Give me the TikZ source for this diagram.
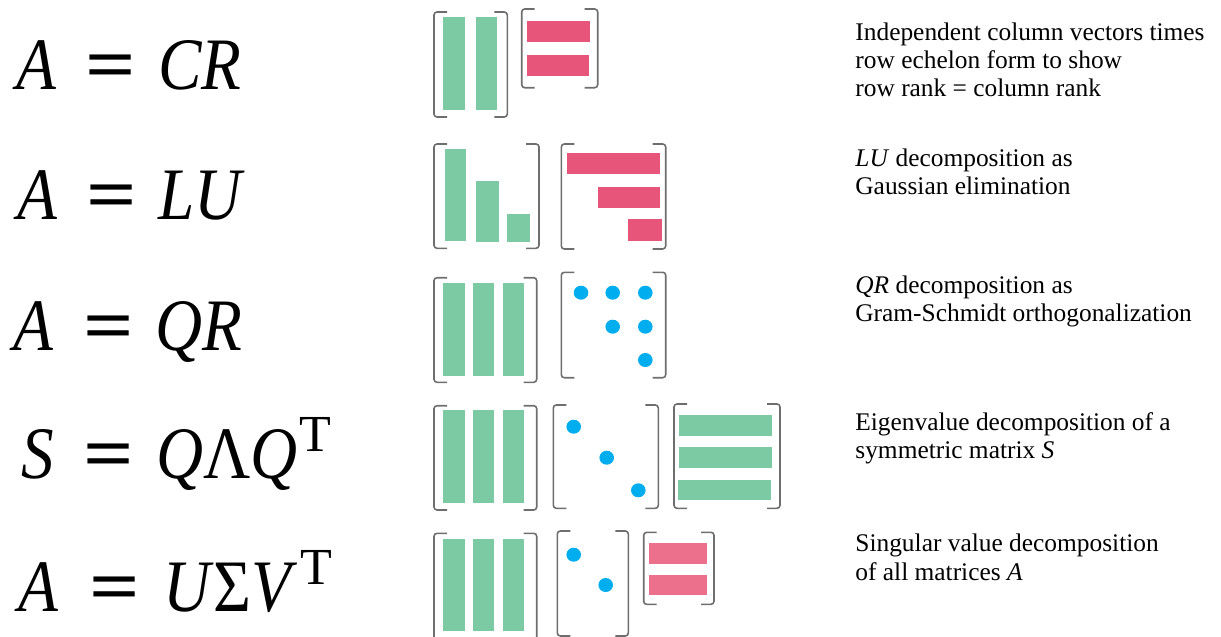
\documentclass[tikz,border=0pt]{standalone}
\usepackage{fontspec}
\usetikzlibrary{calc}
\setmainfont{Liberation Serif}
\newfontfamily\formfont[FakeStretch=0.88]{Liberation Serif}
\newfontfamily\eqfont[FakeStretch=1.2]{Liberation Serif}
\definecolor{colgreen}{HTML}{7BCAA3}
\definecolor{colpink}{HTML}{E8557B}
\definecolor{colpinkb}{HTML}{EC6F8B}
\definecolor{colblue}{HTML}{00AEEF}
\definecolor{colbrak}{HTML}{6E6E6E}
\tikzset{
  brak/.style={draw=colbrak, line width=0.8pt, rounded corners=1.5pt},
  gbar/.style={fill=colgreen},
  pbar/.style={fill=colpink},
  pbarb/.style={fill=colpinkb},
  bdot/.style={fill=colblue},
  formula/.style={anchor=base west, inner sep=0pt, font=\formfont\fontsize{37}{40}\selectfont},
  supT/.style={anchor=base west, inner sep=0pt, font=\fontsize{26}{28}\selectfont},
  eqsign/.style={anchor=base west, inner sep=0pt, font=\eqfont\fontsize{37}{40}\selectfont\bfseries},
  desc/.style={anchor=base west, inner sep=0pt, font=\fontsize{12.7}{14}\selectfont}
}
\newcommand\mybrak[4]{%
  \draw[brak] (#1+13,#2) -- (#1,#2) -- (#1,#4) -- (#1+13,#4);
  \draw[brak] (#3-13,#2) -- (#3,#2) -- (#3,#4) -- (#3-13,#4);}
\begin{document}
\begin{tikzpicture}[x=0.5pt,y=-0.5pt]
\useasboundingbox (0,0) rectangle (1221,637);
% ---------- formulas ----------
\node[formula] (f1l) at (15.7,89.3) {\textit{A}};
\node[eqsign] (f1e) at (85,89.3) {=};
\node[formula] (f1r) at (158,89.3) {\textit{CR}};
\node[formula] (f2l) at (16.7,219) {\textit{A}};
\node[eqsign] (f2e) at (86,219) {=};
\node[formula] (f2r) at (158,219) {\textit{LU}};
\node[formula] (f3l) at (12.7,350.7) {\textit{A}};
\node[eqsign] (f3e) at (83,350.7) {=};
\node[formula] (f3r) at (155,350.7) {\textit{QR}};
\node[formula] (f4l) at (20.7,478.3) {\textit{S}};
\node[eqsign] (f4e) at (83,478.3) {=};
\node[formula] (f4r) at (156,478.3) {\textit{Q}Λ\textit{Q}};
\node[supT] (f4t) at (299,451.7) {T};
\node[formula] (f5l) at (18.3,611.7) {\textit{A}};
\node[eqsign] (f5e) at (88.7,611.7) {=};
\node[formula] (f5r) at (163,611.7) {\textit{U}Σ\textit{V}};
\node[supT] (f5t) at (300,584) {T};
% ---------- row 1: C R ----------
\mybrak{434}{12}{507.3}{117}
\fill[gbar] (443.3,17.3) rectangle (464.7,110);
\fill[gbar] (475.7,17.3) rectangle (497.3,110);
\mybrak{521.7}{9}{597.7}{87.7}
\fill[pbar] (527.3,21) rectangle (590,42.3);
\fill[pbar] (526.7,55) rectangle (588.7,76);
% ---------- row 2: L U ----------
\mybrak{434}{144}{539}{248.3}
\fill[gbar] (445,148.7) rectangle (466,241.3);
\fill[gbar] (476,181) rectangle (498.7,242);
\fill[gbar] (507,214.3) rectangle (530.3,242);
\mybrak{561.3}{144}{665.7}{249}
\fill[pbar] (566.7,153.3) rectangle (660.3,174.3);
\fill[pbar] (597.7,187) rectangle (660.3,208.3);
\fill[pbar] (628,219.3) rectangle (662.3,241.3);
% ---------- row 3: Q R ----------
\mybrak{434}{277.7}{536.7}{382.3}
\foreach \a/\b in {443.3/464.7,473.3/494,503/524.3}
  \fill[gbar] (\a,282.7) rectangle (\b,376);
\mybrak{561.3}{272.3}{665.7}{377.7}
\foreach \p in {(581,292.7),(612.7,292.7),(645.3,292.7),(612.7,326.7),(645.3,326.7),(645.3,360)}
  \fill[bdot] \p circle[x radius=7.3, y radius=7];
% ---------- row 4: Q Lambda Q^T ----------
\mybrak{434}{405.7}{536.7}{510}
\foreach \a/\b in {443.3/464.7,473.3/494,503/524.3}
  \fill[gbar] (\a,410) rectangle (\b,503.3);
\mybrak{553.3}{405}{658.3}{508.3}
\foreach \p in {(573.7,426.7),(606.7,457.7),(638.3,490.3)}
  \fill[bdot] \p circle[x radius=7.3, y radius=7];
\mybrak{674}{404}{780}{508.3}
\fill[gbar] (679,415) rectangle (771.7,436);
\fill[gbar] (679,446.7) rectangle (771.7,467.7);
\fill[gbar] (678,480) rectangle (771,500.3);
% ---------- row 5: U Sigma V^T ----------
\mybrak{434}{533.3}{536.7}{642}
\foreach \a/\b in {443.3/464.7,473.3/494,503/524.3}
  \fill[gbar] (\a,538.7) rectangle (\b,631);
\mybrak{557.3}{531}{628.3}{636}
\foreach \p in {(573.7,554.7),(605.7,585)}
  \fill[bdot] \p circle[x radius=7.3, y radius=7];
\mybrak{643.7}{532.3}{714}{604.3}
\fill[pbarb] (649.3,543.3) rectangle (707.3,564);
\fill[pbarb] (649.3,575) rectangle (707.3,595.3);
% ---------- descriptions ----------
\node[desc] (d1a) at (855,40.7) {Independent column vectors times};
\node[desc] (d1b) at (855,68.3) {row echelon form to show};
\node[desc] (d1c) at (855,96.7) {row rank = column rank};
\node[desc] (d2a) at (855,166.7) {\textit{LU} decomposition as};
\node[desc] (d2b) at (855,194) {Gaussian elimination};
\node[desc] (d3a) at (855,293.3) {\textit{QR} decomposition as};
\node[desc] (d3b) at (855,321.7) {Gram-Schmidt orthogonalization};
\node[desc] (d4a) at (855,430) {Eigenvalue decomposition of a};
\node[desc] (d4b) at (855,458.3) {symmetric matrix \textit{S}};
\node[desc] (d5a) at (855,551.7) {Singular value decomposition};
\node[desc] (d5b) at (855,580) {of all matrices \textit{A}};
\end{tikzpicture}
\end{document}
